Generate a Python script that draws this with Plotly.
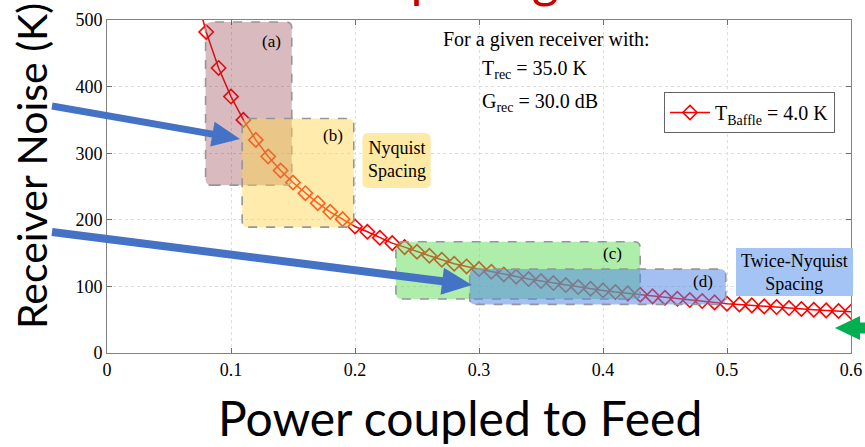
import math
import plotly.graph_objects as go

# ---------------- data ----------------
power = [0.07, 0.08, 0.09, 0.10, 0.11, 0.12, 0.13, 0.14, 0.15, 0.16, 0.17, 0.18, 0.19,
         0.20, 0.21, 0.22, 0.23, 0.24, 0.25, 0.26, 0.27, 0.28, 0.29, 0.30, 0.31,
         0.32, 0.33, 0.34, 0.35, 0.36, 0.37, 0.38, 0.39, 0.40, 0.41, 0.42, 0.43,
         0.44, 0.45, 0.46, 0.47, 0.48, 0.49, 0.50, 0.51, 0.52, 0.53, 0.54, 0.55,
         0.56, 0.57, 0.58, 0.59, 0.60]
noise = [551, 482, 428, 385, 350, 320, 295, 274, 256, 240, 225, 212, 201,
         190, 182, 173, 165, 159, 152, 146, 140, 134, 130, 126, 122,
         118, 114.5, 111, 108, 105, 102, 99, 96.5, 94, 91.5, 89.5, 87.5,
         85, 83, 81.5, 79.5, 78, 76, 74, 73, 71.5, 70, 69, 67.5,
         66, 65, 64, 63, 62]

series_name = "T<sub>Baffle</sub> = 4.0 K"
x_ticks = [0, 0.1, 0.2, 0.3, 0.4, 0.5, 0.6]
x_tick_text = ["0", "0.1", "0.2", "0.3", "0.4", "0.5", "0.6"]
y_ticks = [0, 100, 200, 300, 400, 500]

# shaded regions (x0, x1, y0, y1) in data units
region_labels = ["(a)", "(b)", "(c)", "(d)"]
region_x0 = [0.0795, 0.109, 0.233, 0.2925]
region_x1 = [0.149, 0.199, 0.430, 0.499]
region_y0 = [252, 189, 81, 73]
region_y1 = [497, 352, 167, 126]
region_label_x = [0.1327, 0.182, 0.4077, 0.481]
region_label_y = [467, 327, 150, 108]

note_lines = ["For a given receiver with:", "T<sub>rec</sub> = 35.0 K", "G<sub>rec</sub> = 30.0 dB"]
slide_title = "Noise vs. Feed Spacing"

# ---------------- layout geometry ----------------
W, H = 865, 447
L, R, T, B = 107, 14, 20, 94
PW, PH = W - L - R, H - T - B


def px2paper(px, py):
    return (px - L) / PW, (H - B - py) / PH


def rounded_path(x0, x1, y0, y1, rpx=6):
    rx = rpx * 0.6 / PW
    ry = rpx * 500 / PH
    return (f"M {x0+rx},{y0} L {x1-rx},{y0} Q {x1},{y0} {x1},{y0+ry} "
            f"L {x1},{y1-ry} Q {x1},{y1} {x1-rx},{y1} L {x0+rx},{y1} "
            f"Q {x0},{y1} {x0},{y1-ry} L {x0},{y0+ry} Q {x0},{y0} {x0+rx},{y0} Z")


def arrow_path(tail, tip, shaft, head_len, head_w):
    dx, dy = tip[0] - tail[0], tip[1] - tail[1]
    d = math.hypot(dx, dy)
    ux, uy = dx / d, dy / d
    nx, ny = -uy, ux
    bx, by = tip[0] - ux * head_len, tip[1] - uy * head_len
    pts = [
        (tail[0] + nx * shaft / 2, tail[1] + ny * shaft / 2),
        (bx + nx * shaft / 2, by + ny * shaft / 2),
        (bx + nx * head_w / 2, by + ny * head_w / 2),
        tip,
        (bx - nx * head_w / 2, by - ny * head_w / 2),
        (bx - nx * shaft / 2, by - ny * shaft / 2),
        (tail[0] - nx * shaft / 2, tail[1] - ny * shaft / 2),
    ]
    pp = [px2paper(*p) for p in pts]
    return "M " + " L ".join(f"{x:.5f},{y:.5f}" for x, y in pp) + " Z"


serif = "Liberation Serif"
sans = "Lato"

fig = go.Figure()
fig.add_trace(go.Scatter(
    x=power, y=noise, mode="lines+markers", name=series_name,
    line=dict(color="rgb(255,0,0)", width=1.5),
    marker=dict(symbol="diamond-open", size=11, color="rgb(255,0,0)",
                line=dict(width=1.6, color="rgb(255,0,0)")),
))

shapes = []
fills = ["rgba(140,45,60,0.33)", "rgba(255,212,70,0.45)",
         "rgba(95,220,85,0.5)", "rgba(80,135,230,0.52)"]
for i in range(4):
    shapes.append(dict(type="path", xref="x", yref="y", layer="above",
                       path=rounded_path(region_x0[i], region_x1[i], region_y0[i], region_y1[i]),
                       fillcolor=fills[i],
                       line=dict(color="rgb(150,150,150)", width=1.6, dash="dash")))

# label boxes
shapes.append(dict(type="path", xref="x", yref="y", layer="above",
                   path=rounded_path(0.206, 0.261, 247.7, 330.3),
                   fillcolor="rgb(255,234,165)", line=dict(width=0)))
a_, b_ = px2paper(736, 296), px2paper(853, 248)
shapes.append(dict(type="path", xref="paper", yref="paper", layer="above",
                   path=f"M {a_[0]},{a_[1]} L {b_[0]},{a_[1]} L {b_[0]},{b_[1]} L {a_[0]},{b_[1]} Z",
                   fillcolor="rgb(165,196,246)", line=dict(width=0)))

# arrows
blue = "rgb(68,114,196)"
shapes.append(dict(type="path", xref="paper", yref="paper", layer="above",
                   path=arrow_path((52, 106), (240, 139), 7, 28, 25),
                   fillcolor=blue, line=dict(width=0)))
shapes.append(dict(type="path", xref="paper", yref="paper", layer="above",
                   path=arrow_path((52, 232), (472, 285), 8, 30, 27),
                   fillcolor=blue, line=dict(width=0)))
shapes.append(dict(type="path", xref="paper", yref="paper", layer="above",
                   path=arrow_path((905, 328), (835, 328), 11, 25, 24),
                   fillcolor="rgb(0,176,80)", line=dict(width=0)))

# cut-off red slide title: invisible holder rect above the page, label at its bottom
t0 = px2paper(100, -90)
t1 = px2paper(500, 7)
shapes.append(dict(type="rect", xref="paper", yref="paper", layer="above",
                   x0=t0[0], x1=t1[0], y0=t1[1], y1=t0[1],
                   line=dict(width=0), fillcolor="rgba(0,0,0,0)",
                   label=dict(text=slide_title, textposition="bottom center",
                              yanchor="bottom", padding=0,
                              font=dict(family=sans, size=52, color="rgb(200,0,0)"))))
fig.update_layout(shapes=shapes)

ann = []
for i in range(4):
    ann.append(dict(x=region_label_x[i], y=region_label_y[i], xref="x", yref="y",
                    text=region_labels[i], showarrow=False,
                    font=dict(family=serif, size=17, color="black")))
ann.append(dict(x=0.2335, y=289.8, xref="x", yref="y", text="Nyquist<br>Spacing",
                showarrow=False, font=dict(family=serif, size=18, color="black")))
ann.append(dict(x=0.5544, y=121.6, xref="x", yref="y", text="Twice-Nyquist<br>Spacing",
                showarrow=False, font=dict(family=serif, size=18, color="black")))
nx0, ny0 = px2paper(441, 40)
ann.append(dict(x=nx0, y=ny0, xref="paper", yref="paper", text=note_lines[0],
                xanchor="left", yanchor="middle", showarrow=False,
                font=dict(family=serif, size=20, color="black")))
for k, py in zip([1, 2], [70, 102]):
    px_, py_ = px2paper(480, py)
    ann.append(dict(x=px_, y=py_, xref="paper", yref="paper", text=note_lines[k],
                    xanchor="left", yanchor="middle", showarrow=False,
                    font=dict(family=serif, size=20, color="black")))

# axis titles (slide text)
tx, ty = px2paper(31, 166)
ann.append(dict(x=tx, y=ty, xref="paper", yref="paper", text="Receiver Noise (K)",
                textangle=-90, showarrow=False, xanchor="center", yanchor="middle",
                font=dict(family=sans, size=41, color="black")))
bx, by = px2paper(460, 417)
ann.append(dict(x=bx, y=by, xref="paper", yref="paper", text="Power coupled to Feed",
                showarrow=False, xanchor="center", yanchor="middle",
                font=dict(family=sans, size=48, color="black")))

fig.update_layout(annotations=ann)

axis_common = dict(showline=True, linecolor="rgb(130,130,130)", linewidth=1, mirror="ticks",
                   ticks="inside", ticklen=5, tickcolor="rgb(110,110,110)",
                   showgrid=True, gridcolor="rgb(222,222,222)", griddash="dot", gridwidth=1,
                   zeroline=False, automargin=False,
                   tickfont=dict(family=serif, size=18, color="black"))
fig.update_xaxes(range=[0, 0.6], tickvals=x_ticks, ticktext=x_tick_text, **axis_common)
fig.update_yaxes(range=[0, 500], tickvals=y_ticks, **axis_common)

fig.update_layout(
    width=W, height=H, margin=dict(l=L, r=R, t=T, b=B, pad=0, autoexpand=False),
    paper_bgcolor="white", plot_bgcolor="white",
    showlegend=True,
    legend=dict(x=(664 - L) / PW, y=(H - B - 92) / PH, xanchor="left", yanchor="top",
                bgcolor="white", bordercolor="rgb(100,100,100)", borderwidth=1,
                font=dict(family=serif, size=20, color="black"),
                itemwidth=40, tracegroupgap=0),
)

fig.write_html("out.html")
